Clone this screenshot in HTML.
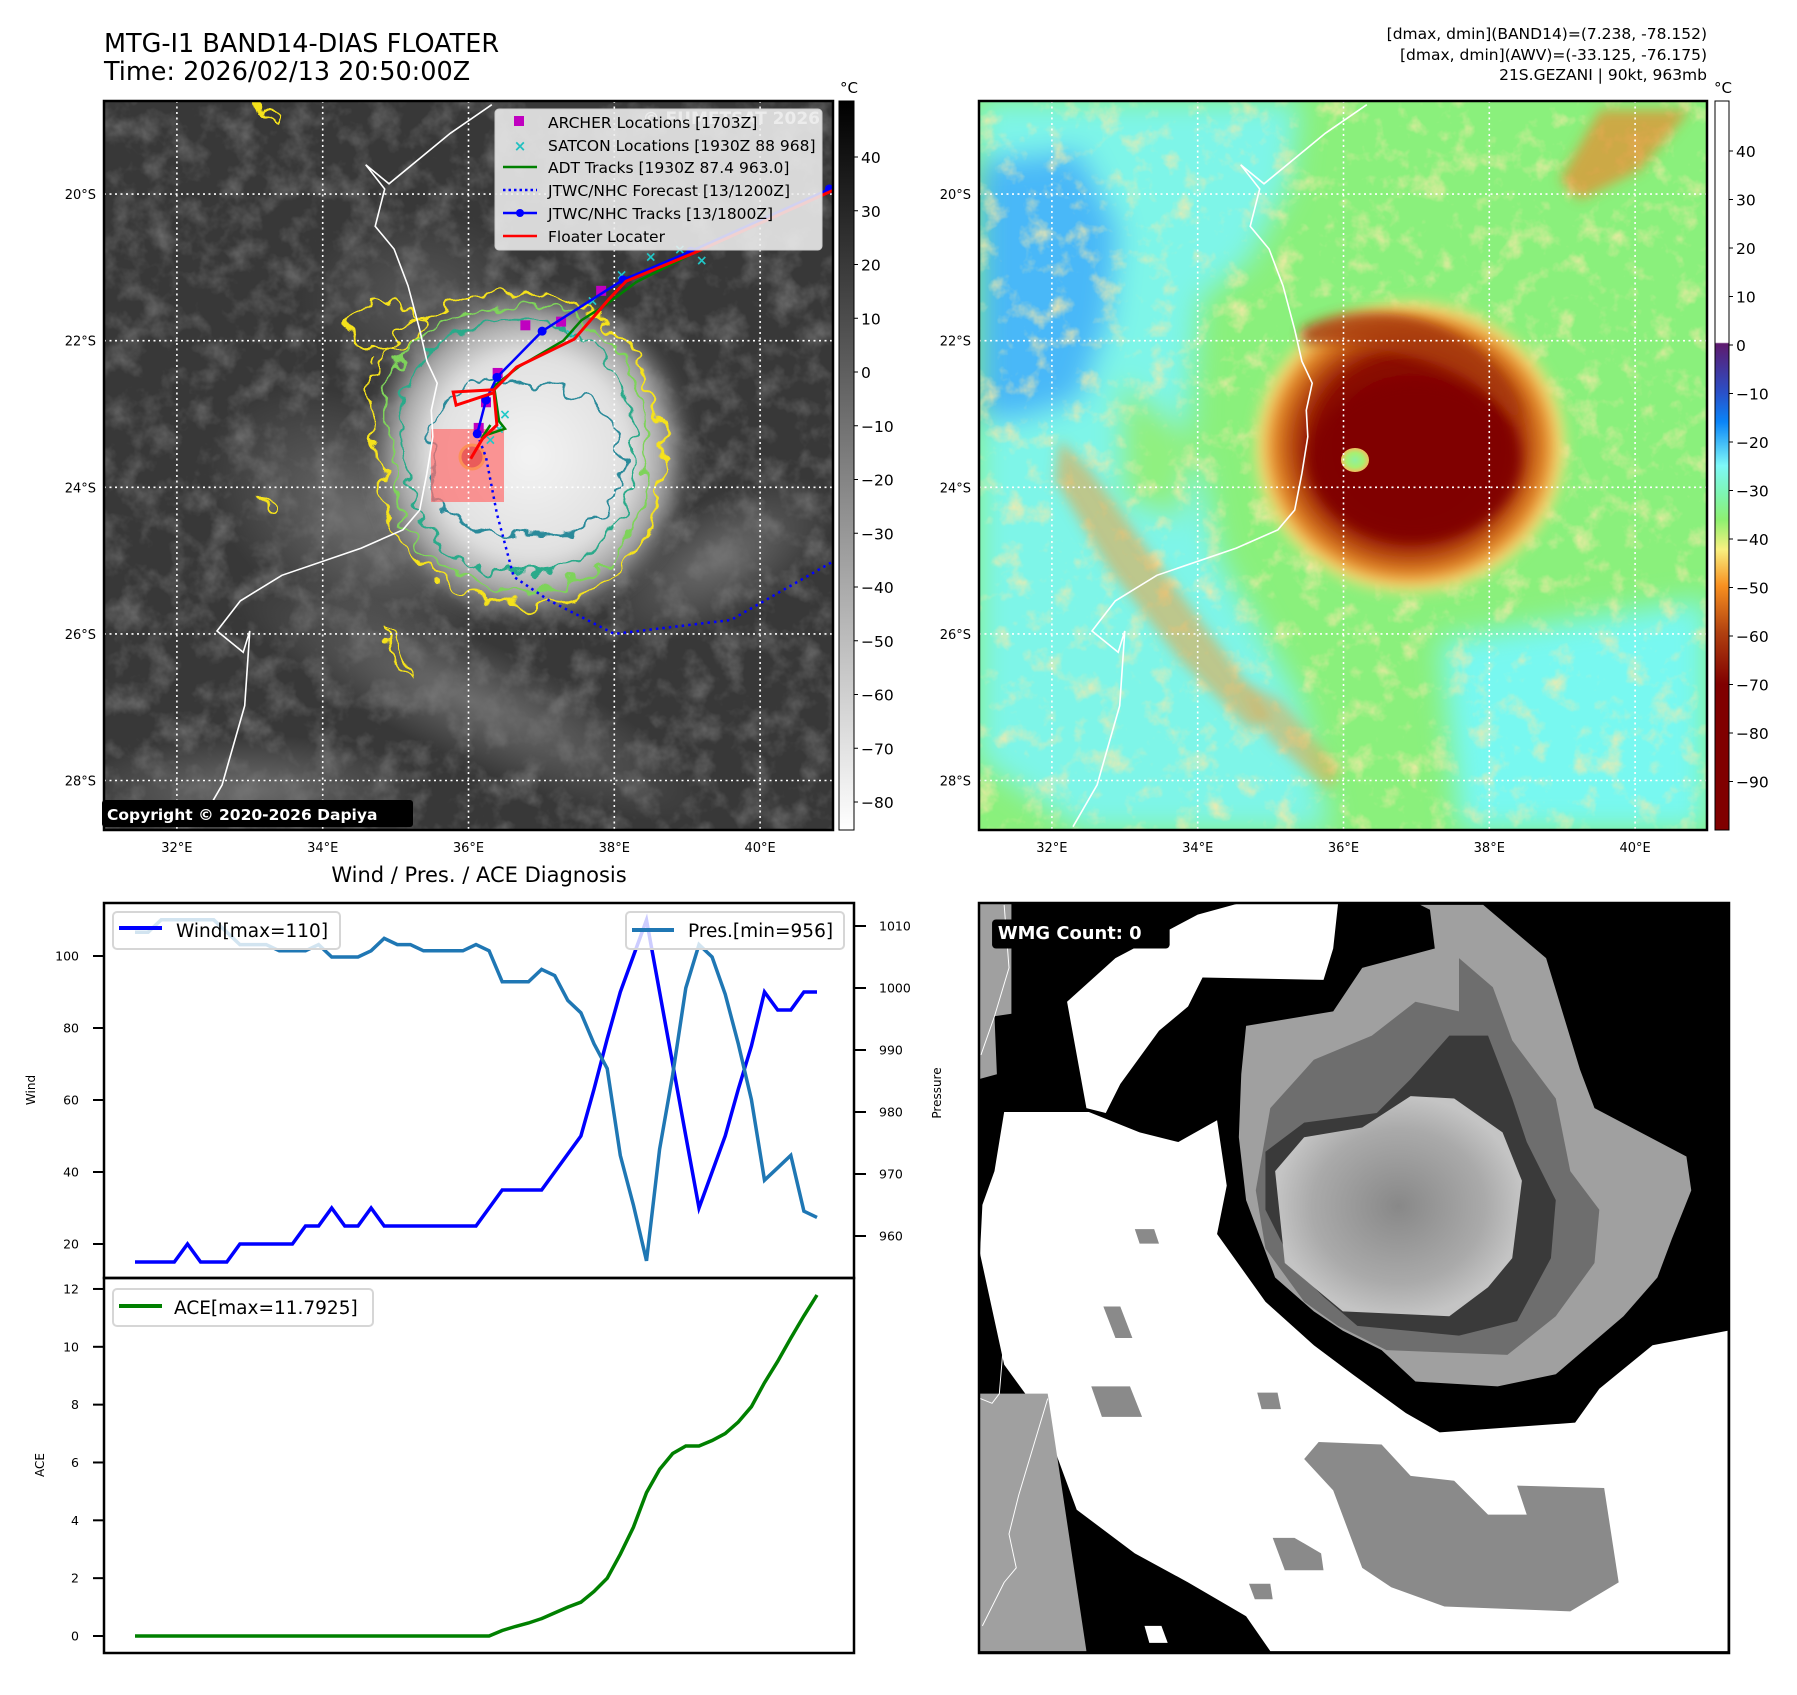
<!DOCTYPE html>
<html><head><meta charset="utf-8">
<style>
html,body{margin:0;padding:0;background:#fff;}
svg text{font-family:"DejaVu Sans","Liberation Sans",sans-serif;}
</style></head>
<body>
<svg id="fig" xmlns="http://www.w3.org/2000/svg" width="1797" height="1690" viewBox="0 0 1797 1690">
<defs>
  <clipPath id="clipL"><rect x="104" y="101" width="729" height="729"/></clipPath>
  <clipPath id="clipR"><rect x="979" y="101" width="728" height="729"/></clipPath>
  <linearGradient id="gGray" x1="0" y1="0" x2="0" y2="1">
    <stop offset="0" stop-color="#000"/><stop offset="1" stop-color="#fff"/>
  </linearGradient>
  <linearGradient id="gJet" x1="0" y1="0" x2="0" y2="1">
    <stop offset="0" stop-color="#fff"/><stop offset="0.331" stop-color="#fff"/>
    <stop offset="0.333" stop-color="#5e1a6e"/><stop offset="0.40" stop-color="#2a50c8"/>
    <stop offset="0.44" stop-color="#0a84f8"/><stop offset="0.50" stop-color="#7ef8f8"/>
    <stop offset="0.54" stop-color="#7ef5b0"/><stop offset="0.575" stop-color="#8ef070"/>
    <stop offset="0.615" stop-color="#f8f080"/><stop offset="0.665" stop-color="#f89020"/>
    <stop offset="0.73" stop-color="#b04010"/><stop offset="0.80" stop-color="#800000"/>
    <stop offset="1" stop-color="#800000"/>
  </linearGradient>
  <radialGradient id="gStormL" cx="0.5" cy="0.5" r="0.5">
    <stop offset="0" stop-color="#f4f4f4"/><stop offset="0.6" stop-color="#e0e0e0"/>
    <stop offset="0.82" stop-color="#a0a0a0"/><stop offset="1" stop-color="#808080" stop-opacity="0"/>
  </radialGradient>
  <radialGradient id="gBandL" cx="0.5" cy="0.5" r="0.5">
    <stop offset="0" stop-color="#7a7a7a" stop-opacity="0.8"/><stop offset="1" stop-color="#7a7a7a" stop-opacity="0"/>
  </radialGradient>
  <radialGradient id="gStormR" cx="0.5" cy="0.5" r="0.5">
    <stop offset="0" stop-color="#800000"/><stop offset="0.6" stop-color="#8a0800"/>
    <stop offset="0.74" stop-color="#b84a10"/><stop offset="0.86" stop-color="#e8902c"/>
    <stop offset="0.94" stop-color="#f2e07a"/><stop offset="1" stop-color="#f2e07a" stop-opacity="0"/>
  </radialGradient>
  <radialGradient id="gEye" cx="0.5" cy="0.5" r="0.5">
    <stop offset="0" stop-color="#8ef0a0"/><stop offset="0.6" stop-color="#a8f070"/><stop offset="1" stop-color="#f0c060"/>
  </radialGradient>
  <radialGradient id="gCore" cx="0.5" cy="0.5" r="0.5">
    <stop offset="0" stop-color="#888"/><stop offset="0.7" stop-color="#aaa"/><stop offset="1" stop-color="#c4c4c4"/>
  </radialGradient>
  <filter id="fNoise" x="0" y="0" width="1" height="1">
    <feTurbulence type="fractalNoise" baseFrequency="0.035" numOctaves="4" seed="3"/>
    <feColorMatrix type="matrix" values="0 0 0 0 1  0 0 0 0 1  0 0 0 0 1  0 0 0 1.6 -0.7"/>
  </filter>
  <filter id="fNoiseR" x="0" y="0" width="1" height="1">
    <feTurbulence type="fractalNoise" baseFrequency="0.04" numOctaves="4" seed="8"/>
    <feColorMatrix type="matrix" values="0 0 0 0 0.97  0 0 0 0 0.82  0 0 0 0 0.4  0 0 0 2.4 -1.25"/>
  </filter>
  <filter id="fRag" x="-10%" y="-10%" width="120%" height="120%">
    <feTurbulence type="fractalNoise" baseFrequency="0.05" numOctaves="2" seed="5" result="t"/>
    <feDisplacementMap in="SourceGraphic" in2="t" scale="30" xChannelSelector="R" yChannelSelector="G"/>
  </filter>
  <filter id="fBlur"><feGaussianBlur stdDeviation="14"/></filter>
  <filter id="fBlur2"><feGaussianBlur stdDeviation="6"/></filter>
</defs>

<text x="104" y="52" font-size="25.5">MTG-I1 BAND14-DIAS FLOATER</text>
<text x="104" y="80" font-size="25.5">Time: 2026/02/13 20:50:00Z</text>
<text x="1707" y="39" font-size="15.5" text-anchor="end">[dmax, dmin](BAND14)=(7.238, -78.152)</text>
<text x="1707" y="60" font-size="15.5" text-anchor="end">[dmax, dmin](AWV)=(-33.125, -76.175)</text>
<text x="1707" y="80" font-size="15.5" text-anchor="end">21S.GEZANI | 90kt, 963mb</text>

<!-- LEFT MAP -->
<g clip-path="url(#clipL)">
  <rect x="104" y="101" width="729" height="729" fill="#383838"/>
  <rect x="104" y="101" width="729" height="729" filter="url(#fNoise)" opacity="0.32"/>
  <ellipse cx="420" cy="300" rx="120" ry="90" fill="url(#gBandL)" opacity="0.6"/>
  <ellipse cx="360" cy="520" rx="170" ry="110" fill="url(#gBandL)" transform="rotate(35 360 520)"/>
  <ellipse cx="470" cy="700" rx="260" ry="60" fill="url(#gBandL)" transform="rotate(25 470 700)"/>
  <ellipse cx="720" cy="560" rx="130" ry="60" fill="url(#gBandL)" transform="rotate(-30 720 560)"/>
  <ellipse cx="250" cy="790" rx="180" ry="55" fill="url(#gBandL)"/>
  <ellipse cx="530" cy="455" rx="165" ry="170" fill="url(#gStormL)" filter="url(#fBlur2)"/>
  <g id="contours" fill="none" stroke-width="2.4" filter="url(#fRag)">
    <path stroke="#f5e21c" d="M372 420 C360 350 420 300 500 292 C580 288 640 330 660 420 C672 500 640 590 560 602 C480 610 410 580 385 510 Z M370 355 C340 340 330 310 380 300 C420 300 430 330 410 345 Z"/>
    <path stroke="#7ed35a" d="M385 420 C380 360 430 310 505 305 C580 302 632 340 648 420 C655 500 625 575 555 588 C480 596 420 570 398 505 Z"/>
    <path stroke="#2aaa8a" d="M400 420 C400 370 445 325 510 320 C575 318 620 355 632 425 C640 495 612 560 553 572 C485 580 430 555 412 500 Z"/>
    <path stroke="#2a8a9a" d="M428 440 C432 395 470 375 520 382 C570 386 610 400 622 450 C628 500 600 530 545 536 C490 540 440 520 432 480 Z"/>
    <path stroke="#f5e21c" d="M385 628 C395 640 410 660 405 675 C395 670 380 650 385 628 Z"/>
    <path stroke="#f5e21c" d="M262 495 C272 498 282 510 272 515 C262 512 258 502 262 495 Z"/>
    <path stroke="#f5e21c" d="M260 104 C275 108 285 118 278 125 C266 122 258 112 260 104 Z"/>
  </g>
  <circle cx="472" cy="457" r="12" fill="#b22a20" stroke="#f5e21c" stroke-width="3"/>
  <rect x="431" y="429" width="73" height="73" fill="#ff7070" opacity="0.72"/>
  <g id="gridL"></g>
  <path id="coastL" fill="none" stroke="#fff" stroke-width="1.6"/>
  <g id="tracks"></g>
</g>
<rect x="104" y="101" width="729" height="729" fill="none" stroke="#000" stroke-width="2.5"/>

<g>
  <text x="820" y="124" font-size="17" font-weight="bold" fill="#ddd" text-anchor="end">© EUMETSAT 2026</text>
  <rect x="495" y="109" width="327" height="141" rx="4" fill="#eeeeee" fill-opacity="0.88" stroke="#ccc"/>
  <rect x="514" y="116" width="10" height="10" fill="#c000c0"/>
  <text x="548" y="128" font-size="15.5">ARCHER Locations [1703Z]</text>
  <text x="520" y="151" font-size="15" font-weight="bold" fill="#20c0c0" text-anchor="middle">×</text>
  <text x="548" y="151" font-size="15.5">SATCON Locations [1930Z 88 968]</text>
  <line x1="503" y1="167" x2="537" y2="167" stroke="#008000" stroke-width="2.5"/>
  <text x="548" y="173" font-size="15.5">ADT Tracks [1930Z 87.4 963.0]</text>
  <line x1="503" y1="190" x2="537" y2="190" stroke="#0000ff" stroke-width="2.5" stroke-dasharray="2.5,3"/>
  <text x="548" y="196" font-size="15.5">JTWC/NHC Forecast [13/1200Z]</text>
  <line x1="503" y1="213" x2="537" y2="213" stroke="#0000ff" stroke-width="2.5"/>
  <circle cx="520" cy="213" r="4" fill="#0000ff"/>
  <text x="548" y="219" font-size="15.5">JTWC/NHC Tracks [13/1800Z]</text>
  <line x1="503" y1="236" x2="537" y2="236" stroke="#ff0000" stroke-width="2.5"/>
  <text x="548" y="242" font-size="15.5">Floater Locater</text>
</g>
<rect x="102" y="800" width="311" height="27" rx="3" fill="#000"/>
<text x="107" y="820" font-size="15.5" font-weight="bold" fill="#fff">Copyright © 2020-2026 Dapiya</text>

<rect x="839" y="101" width="15" height="729" fill="url(#gGray)" stroke="#000" stroke-width="1"/>
<text x="849" y="93" font-size="15" text-anchor="middle">°C</text>
<g id="cbL"></g>

<!-- RIGHT MAP -->
<g clip-path="url(#clipR)">
  <rect x="979" y="101" width="728" height="729" fill="#8af07c"/>
  <g filter="url(#fBlur)">
    <path fill="#7ef5e8" d="M979 101 L1300 101 L1290 180 L1250 260 L1200 300 L1190 420 L1220 560 L1300 700 L1330 830 L1080 830 L979 760 Z"/>
    <path fill="#48b8f8" d="M979 160 L1080 150 L1120 230 L1110 320 L1080 400 L1020 420 L979 420 Z"/>
    <path fill="#78f8f0" d="M1440 640 L1707 600 L1707 830 L1460 830 Z"/>
    <path fill="#90f080" d="M1120 380 L1200 440 L1180 520 L1120 500 Z"/>
  </g>
  <rect x="979" y="101" width="728" height="729" filter="url(#fNoiseR)" opacity="0.85"/>
  <g filter="url(#fBlur2)">
    <path fill="#f0a040" opacity="0.55" d="M1060 440 L1090 470 L1170 580 L1230 660 L1270 720 L1250 730 L1180 660 L1110 570 L1055 480 Z"/>
    <path fill="#f0a040" opacity="0.5" d="M1240 680 L1280 700 L1340 770 L1330 790 L1270 740 Z"/>
    <path fill="#e88a30" opacity="0.7" d="M1600 110 L1690 110 L1640 170 L1580 200 L1560 180 Z"/>
  </g>
  <ellipse cx="1410" cy="447" rx="160" ry="150" fill="url(#gStormR)" filter="url(#fBlur2)"/>
  <ellipse cx="1415" cy="460" rx="105" ry="80" fill="#800000" opacity="0.9" filter="url(#fBlur2)"/>
  <path fill="#a83a08" opacity="0.85" filter="url(#fBlur2)" d="M1300 330 C1340 305 1420 305 1470 345 C1510 375 1530 420 1515 420 C1480 375 1400 340 1305 345 Z"/>
  <ellipse cx="1355" cy="460" rx="14" ry="12" fill="url(#gEye)"/>
  <g id="gridR"></g>
  <path id="coastR" fill="none" stroke="#fff" stroke-width="1.6"/>
</g>
<rect x="979" y="101" width="728" height="729" fill="none" stroke="#000" stroke-width="2.5"/>
<rect x="1715" y="101" width="14" height="729" fill="url(#gJet)" stroke="#000" stroke-width="1"/>
<text x="1723" y="93" font-size="15" text-anchor="middle">°C</text>
<g id="cbR"></g>
<g id="axLabels"></g>

<!-- BOTTOM CHART -->
<text x="479" y="882" font-size="21" text-anchor="middle">Wind / Pres. / ACE Diagnosis</text>
<rect x="104" y="903" width="750" height="375" fill="#fff"/>
<rect x="104" y="1278" width="750" height="375" fill="#fff"/>
<g id="chart"></g>
<rect x="104" y="903" width="750" height="375" fill="none" stroke="#000" stroke-width="2.5"/>
<rect x="104" y="1278" width="750" height="375" fill="none" stroke="#000" stroke-width="2.5"/>
<text transform="translate(35 1090) rotate(-90)" font-size="12" text-anchor="middle">Wind</text>
<text transform="translate(941 1093) rotate(-90)" font-size="12" text-anchor="middle">Pressure</text>
<text transform="translate(44 1465) rotate(-90)" font-size="12" text-anchor="middle">ACE</text>

<g>
  <rect x="113" y="912" width="227" height="37" rx="4" fill="#fff" fill-opacity="0.8" stroke="#d6d6d6" stroke-width="2"/>
  <line x1="119" y1="928" x2="162" y2="928" stroke="#0000ff" stroke-width="4"/>
  <text x="176" y="937" font-size="18.5">Wind[max=110]</text>
</g>
<g>
  <rect x="626" y="912" width="218" height="37" rx="4" fill="#fff" fill-opacity="0.8" stroke="#d6d6d6" stroke-width="2"/>
  <line x1="632" y1="930" x2="674" y2="930" stroke="#1f77b4" stroke-width="4"/>
  <text x="688" y="937" font-size="18.5">Pres.[min=956]</text>
</g>
<g>
  <rect x="113" y="1289" width="260" height="37" rx="4" fill="#fff" fill-opacity="0.8" stroke="#d6d6d6" stroke-width="2"/>
  <line x1="119" y1="1306" x2="162" y2="1306" stroke="#008000" stroke-width="4"/>
  <text x="174" y="1314" font-size="18.5">ACE[max=11.7925]</text>
</g>

<!-- WMG -->
<svg x="979" y="903" width="750" height="750" viewBox="8 6 1550 1550" preserveAspectRatio="none">
  <rect x="0" y="0" width="1568" height="1568" fill="#000"/>
  <path fill="#a0a0a0" d="M8 6 L75 6 L75 235 L40 240 L45 360 L8 370 Z"/>
  <path fill="#fff" d="M540 8 L750 8 L740 100 L720 165 L470 160 L440 220 L380 270 L300 380 L270 440 L230 430 L190 210 L290 120 L460 30 Z"/>
  <path fill="#fff" d="M60 438 L235 438 L340 480 L420 500 L500 455 L520 590 L500 690 L600 830 L700 920 L780 980 L890 1060 L960 1100 L1240 1080 L1290 1010 L1400 920 L1555 890 L1555 1552 L610 1552 L560 1480 L440 1410 L330 1350 L210 1260 L140 1070 L60 960 L10 730 L15 630 L40 560 Z"/>
  <path fill="#a0a0a0" d="M8 1020 L150 1020 L230 1552 L8 1552 Z"/>
  <path fill="#a0a0a0" d="M920 10 L1050 10 L1180 120 L1250 350 L1280 430 L1470 530 L1480 600 L1440 700 L1410 780 L1340 860 L1200 980 L1080 1005 L910 995 L840 930 L760 890 L700 850 L620 780 L590 700 L560 620 L545 490 L550 360 L560 260 L740 230 L800 140 L950 100 L940 20 Z"/>
  <path fill="#6e6e6e" d="M1000 120 L1070 180 L1110 290 L1200 410 L1230 560 L1290 640 L1280 750 L1200 860 L1100 940 L850 930 L750 880 L680 830 L600 720 L580 600 L610 430 L700 330 L820 280 L910 210 L1000 230 Z"/>
  <path fill="#3a3a3a" d="M980 280 L1060 280 L1110 410 L1140 500 L1200 620 L1190 740 L1120 870 L1000 900 L790 880 L720 820 L660 760 L600 640 L600 520 L680 460 L830 440 L900 370 Z"/>
  <path fill="url(#gCore)" d="M900 405 L990 410 L1090 480 L1130 580 L1110 740 L1060 800 L980 860 L760 850 L700 800 L640 750 L620 560 L680 490 L800 470 Z"/>
  <path fill="#8a8a8a" d="M710 1120 L840 1125 L900 1190 L990 1200 L1060 1270 L1140 1270 L1120 1210 L1300 1215 L1330 1410 L1230 1470 L970 1460 L860 1420 L800 1380 L740 1220 L680 1155 Z"/>
  <path fill="#8a8a8a" d="M330 680 L370 680 L380 710 L340 710 Z M265 840 L300 840 L325 905 L290 905 Z M240 1005 L320 1005 L345 1068 L262 1068 Z M583 1018 L625 1018 L632 1052 L592 1052 Z M615 1318 L660 1318 L715 1350 L720 1385 L640 1385 Z M566 1413 L610 1413 L615 1445 L578 1445 Z"/>
  <path fill="#fff" d="M350 1500 L385 1500 L398 1535 L360 1535 Z"/>
  <path fill="none" stroke="#fff" stroke-width="2" d="M60 10 L70 140 L40 240 L12 320 M55 885 L60 900 L50 1020 L35 1040 L10 1030 M150 1030 L120 1130 L90 1230 L70 1310 L85 1380 L60 1410 L45 1440 L15 1500"/>
  <rect x="35" y="40" width="367" height="60" rx="8" fill="#000"/>
  <text x="47" y="80" font-size="37" font-weight="bold" fill="#fff">WMG Count: 0</text>
</svg>
<rect x="979" y="903" width="750" height="750" fill="none" stroke="#000" stroke-width="2.5"/>

<script>
// ===== Chart data =====
const windValues = [15,15,15,15,20,15,15,15,20,20,20,20,20,25,25,30,25,25,30,25,25,25,25,25,25,25,25,30,35,35,35,35,40,45,50,63,77,90,100,110,90,70,50,30,40,50,63,75,90,85,85,90,90];
const pressureValues = [1009,1009,1011,1011,1011,1011,1011,1009,1007,1007,1007,1006,1006,1006,1007,1005,1005,1005,1006,1008,1007,1007,1006,1006,1006,1006,1007,1006,1001,1001,1001,1003,1002,998,996,991,987,973,965,956,974,986,1000,1007,1005,999,991,982,969,971,973,964,963];
const aceValues = [0,0,0,0,0,0,0,0,0,0,0,0,0,0,0,0,0,0,0,0,0,0,0,0,0,0,0,0,0.19,0.33,0.45,0.6,0.8,1.0,1.17,1.54,2.0,2.83,3.76,4.96,5.76,6.31,6.57,6.57,6.76,7.0,7.4,7.93,8.76,9.5,10.3,11.07,11.79];
const windTicks = [20,40,60,80,100];
const pressureTicks = [960,970,980,990,1000,1010];
const aceTicks = [0,2,4,6,8,10,12];
// map data
const latTicks = [20,22,24,26,28];
const lonTicks = [32,34,36,38,40];
const irCbTicks = [40,30,20,10,0,-10,-20,-30,-40,-50,-60,-70,-80];
const awvCbTicks = [40,30,20,10,0,-10,-20,-30,-40,-50,-60,-70,-80,-90];
const coastLon = [36.32,35.75,34.91,34.59,34.85,34.72,34.98,35.17,35.33,35.43,35.57,35.49,35.51,35.43,35.33,35.10,34.53,33.44,32.87,32.55,32.91,33.0,32.93,32.62,32.29];
const coastLat = [18.78,19.17,19.86,19.60,19.93,20.44,20.75,21.25,21.85,22.28,22.58,22.95,23.31,23.81,24.31,24.58,24.83,25.20,25.55,25.96,26.25,25.96,26.98,28.06,28.63];
const jtwcLon = [40.95,39.05,38.12,37.01,36.39,36.24,36.12];
const jtwcLat = [19.93,20.78,21.17,21.87,22.5,22.81,23.27];
const fcstLon = [36.12,36.24,36.39,36.62,37.1,38.0,39.6,40.9,41.2];
const fcstLat = [23.27,23.59,24.36,25.22,25.54,26.0,25.81,25.07,24.9];
const floaterLon = [41.0,39.1,38.16,37.93,37.45,36.66,36.35,35.79,35.83,36.35,36.39,36.19,36.03];
const floaterLat = [19.95,20.8,21.19,21.43,21.98,22.36,22.67,22.7,22.88,22.71,23.15,23.34,23.61];
const adtLon = [41.0,39.0,38.3,37.9,37.55,37.3,36.7,36.35,36.42,36.5,36.2,36.3];
const adtLat = [19.95,20.85,21.2,21.5,21.72,22.0,22.35,22.62,23.1,23.2,23.3,23.15];
const archerLon = [37.82,37.27,36.78,36.4,36.24,36.14];
const archerLat = [21.32,21.74,21.79,22.44,22.84,23.19];
const satconLon = [39.2,38.9,38.5,38.1,37.7,37.4,36.5,36.42,36.3];
const satconLat = [20.9,20.75,20.85,21.1,21.45,21.9,23.0,23.2,23.35];

const NS='http://www.w3.org/2000/svg';
function mk(tag, attrs, parent){const e=document.createElementNS(NS,tag);for(const k in attrs)e.setAttribute(k,attrs[k]);parent.appendChild(e);return e;}
function mx(lon,x0){return x0+(lon-31)*72.9;}
function my(lat){return 101+(lat-18.73)*73.3;}
const X0=135, X1=817;
function cx(i){return X0+i*(X1-X0)/(windValues.length-1);}
function wy(v){return 956+(100-v)*3.6;}
function py(p){return 926+(1010-p)*6.2;}
function ay(a){return 1636-a*28.92;}

[['gridL',104],['gridR',979]].forEach(([id,x0])=>{
  const g=document.getElementById(id);
  lonTicks.forEach(l=>{const e=mk('line',{x1:mx(l,x0),x2:mx(l,x0),y1:101,y2:830,stroke:'#fff','stroke-width':1.6,'stroke-dasharray':'2,3.5'},g);
    
    });
  latTicks.forEach(l=>{const e=mk('line',{x1:x0,x2:x0+729,y1:my(l),y2:my(l),stroke:'#fff','stroke-width':1.6,'stroke-dasharray':'2,3.5'},g);
    
    });
});
function pathFrom(lons,lats,x0){return lons.map((l,i)=>(i?'L':'M')+mx(l,x0).toFixed(1)+' '+my(lats[i]).toFixed(1)).join(' ');}
document.getElementById('coastL').setAttribute('d',pathFrom(coastLon,coastLat,104));
document.getElementById('coastR').setAttribute('d',pathFrom(coastLon,coastLat,979));
const ax=document.getElementById('axLabels');
[104,979].forEach(x0=>{
  latTicks.forEach(l=>{const t=mk('text',{x:x0-8,y:my(l)+5,'font-size':13,'text-anchor':'end'},ax);t.textContent=l+'°S';
    
    });
  lonTicks.forEach(l=>{const t=mk('text',{x:mx(l,x0),y:852,'font-size':13,'text-anchor':'middle'},ax);t.textContent=l+'°E';
    
    });
});
const cbL=document.getElementById('cbL');
irCbTicks.forEach(v=>{const y=372-v*5.375;
  mk('line',{x1:854,x2:858,y1:y,y2:y,stroke:'#000'},cbL);
  const t=mk('text',{x:861,y:y+6,'font-size':15.5},cbL);t.textContent=(v<0?'\u2212'+(-v):v);
  
  });
const cbR=document.getElementById('cbR');
awvCbTicks.forEach(v=>{const y=345-v*4.85;
  mk('line',{x1:1729,x2:1733,y1:y,y2:y,stroke:'#000'},cbR);
  const t=mk('text',{x:1736,y:y+6,'font-size':15.5},cbR);t.textContent=(v<0?'\u2212'+(-v):v);
  
  });

const tr=document.getElementById('tracks');
const fc=mk('path',{d:pathFrom(fcstLon,fcstLat,104),fill:'none',stroke:'#0000ff','stroke-width':2.5,'stroke-dasharray':'2.5,4'},tr);


satconLon.forEach((l,i)=>{const t=mk('text',{x:mx(l,104),y:my(satconLat[i])+5,'font-size':14,'font-weight':'bold',fill:'#20c8c8','text-anchor':'middle'},tr);t.textContent='×';
  
  });
const ad=mk('path',{d:pathFrom(adtLon,adtLat,104),fill:'none',stroke:'#008000','stroke-width':2.5},tr);


archerLon.forEach((l,i)=>{const r=mk('rect',{x:mx(l,104)-5,y:my(archerLat[i])-5,width:10,height:10,fill:'#c000c0'},tr);
  
  });
const jt=mk('path',{d:pathFrom(jtwcLon,jtwcLat,104),fill:'none',stroke:'#0000ff','stroke-width':2.5},tr);


jtwcLon.forEach((l,i)=>{const c=mk('circle',{cx:mx(l,104),cy:my(jtwcLat[i]),r:4.5,fill:'#0000ff'},tr);
  
  });
const fl=mk('path',{d:pathFrom(floaterLon,floaterLat,104),fill:'none',stroke:'#ff0000','stroke-width':3},tr);



const ch=document.getElementById('chart');
windTicks.forEach(v=>{const y=wy(v);mk('line',{x1:93,x2:104,y1:y,y2:y,stroke:'#000','stroke-width':2},ch);
  const t=mk('text',{x:79,y:y+4.5,'font-size':12.5,'text-anchor':'end'},ch);t.textContent=v;
  
  });
pressureTicks.forEach(v=>{const y=py(v);mk('line',{x1:854,x2:866,y1:y,y2:y,stroke:'#000','stroke-width':2},ch);
  const t=mk('text',{x:879,y:y+4.5,'font-size':12.5},ch);t.textContent=v;
  
  });
aceTicks.forEach(v=>{const y=ay(v);mk('line',{x1:93,x2:104,y1:y,y2:y,stroke:'#000','stroke-width':2},ch);
  const t=mk('text',{x:79,y:y+4.5,'font-size':12.5,'text-anchor':'end'},ch);t.textContent=v;
  
  });
function linePts(vals,f){return vals.map((v,i)=>cx(i).toFixed(1)+','+f(v).toFixed(1)).join(' ');}
const wl=mk('polyline',{points:linePts(windValues,wy),fill:'none',stroke:'#0000ff','stroke-width':3.5},ch);


const pl=mk('polyline',{points:linePts(pressureValues,py),fill:'none',stroke:'#1f77b4','stroke-width':3.5},ch);


const al=mk('polyline',{points:linePts(aceValues,ay),fill:'none',stroke:'#008000','stroke-width':3.5},ch);


</script>
</svg>
</body></html>
